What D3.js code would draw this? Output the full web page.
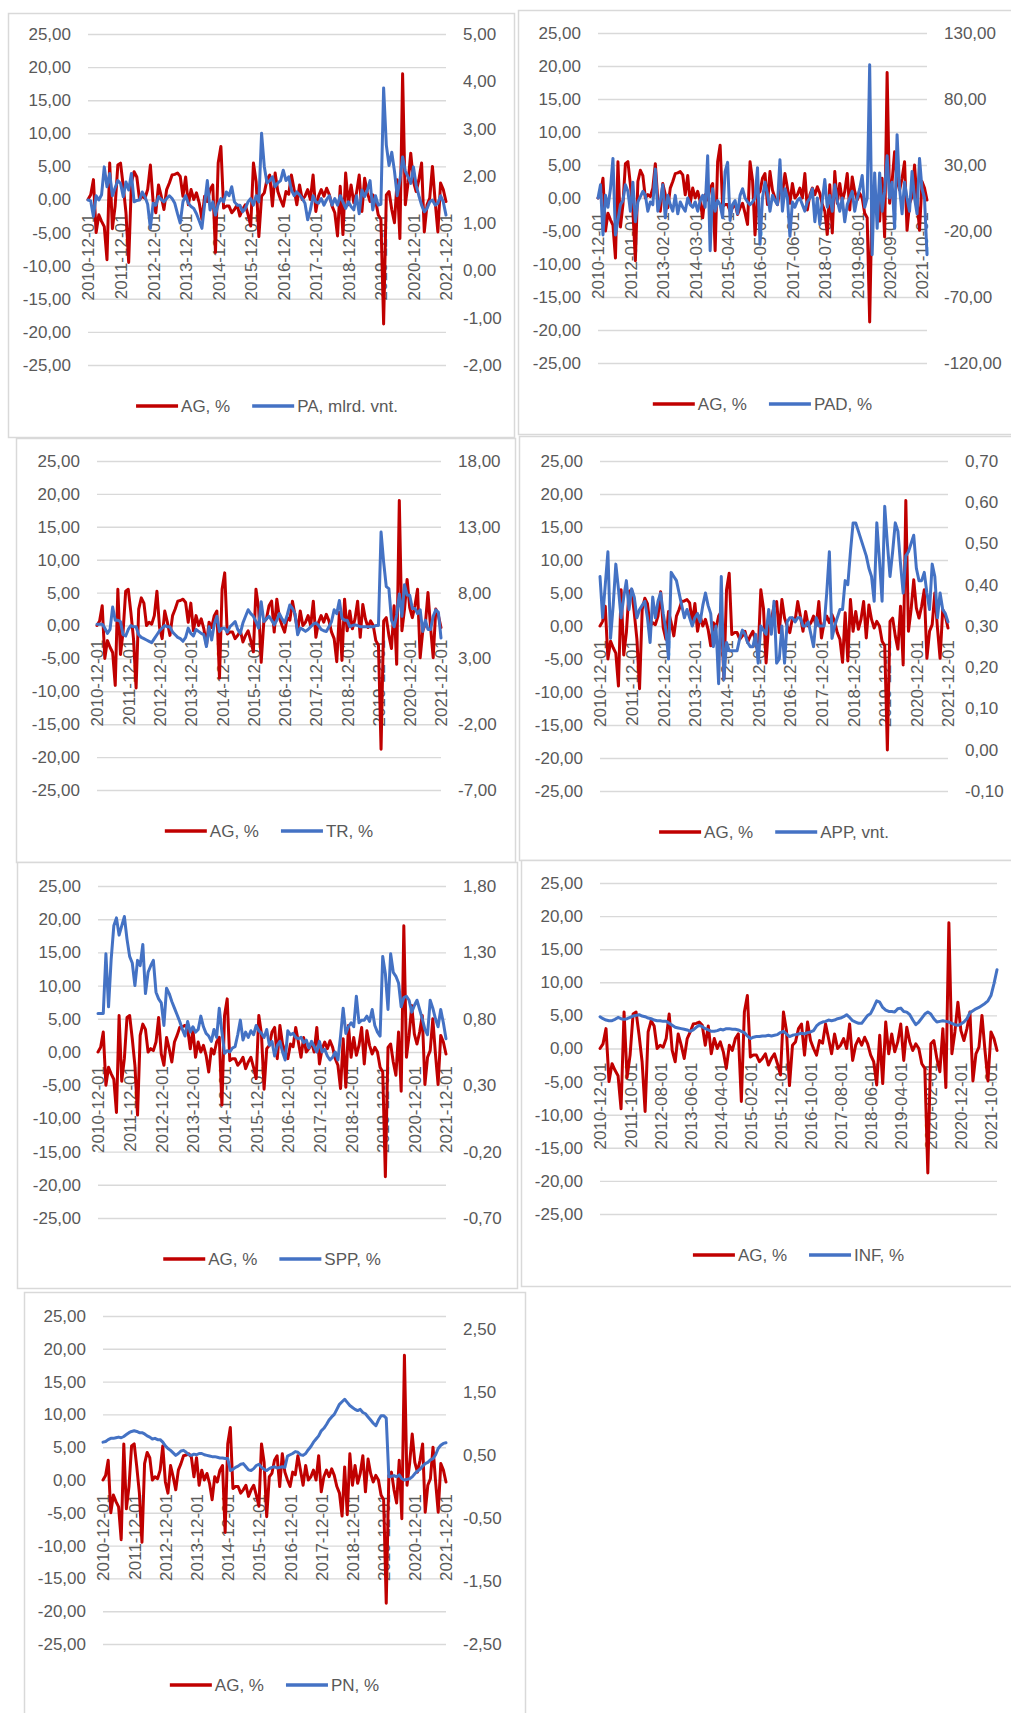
<!DOCTYPE html>
<html>
<head>
<meta charset="utf-8">
<script src="https://cdn.jsdelivr.net/npm/d3@7"></script>
<style>
  body { margin: 0; background: #fff; }
  svg text { font-family: "Liberation Sans", Arial, sans-serif; fill: #595959; }
</style>
</head>
<body>
<svg id="chart" width="1011" height="1713"></svg>
<script>
// Monthly observations, 2010-12 .. 2021-12 (133 months)
const firstMonth = new Date(2010, 11, 1);
const lastMonth = new Date(2021, 11, 1);

// AG, % (shared red series in every panel)
const agValues = [
  0, 0.7, 3, -5, -2.3, -3.3, -4.1, -9.1, 5.5, -4.4, -1, 5.2,
  5.5, 2, -2, -9.5, 2.5, 4.2, 3.4, 0, 0.5, 0.2, 1.5, 5.2,
  -0.3, -2, 2.2, 0.5, -1.5, 1.5, 2.5, 3.7, 3.8, 4, 3.5, 0.5,
  3.4, -0.8, 1.5, 0, 1, -0.5, -3, 0.5, -0.3, 1.5, 2.2, -8,
  5.5, 8, -1.3, -1, -1, -2, -1.5, -0.8, -2.5, -1.5, -0.8, -2.3,
  -4, 5.5, 2.7, -5.6, 0.5, 1, 3, 3.7, -1, 4, 1.2, 0,
  -1, 1.2, 0.8, 3.7, 1.5, -0.8, 2.2, 0, 0.5, 1.5, 0, 3.7,
  -1.8, 0.5, 1.5, 0.5, 1.7, 0.7, -1, -2, -5.5, 2, -5.3, 4,
  -0.8, 2.2, -0.5, 1, 3.7, -1.8, 3.2, 1, -0.3, 0.7, 0, -2.3,
  -3, -18.8, 0.7, 1.2, -1.5, -3.5, 3, -5.9, 19, -0.8, 2.5, 7,
  2.7, 1.2, 3, 5.5, -4.9, -0.8, 0.2, 5, -0.3, -4.9, 2.5, 1.5,
  -0.3
];

// PA, mlrd. vnt.
const paValues = [
  1.49, 1.47, 1.14, 1.58, 1.49, 1.60, 2.19, 1.77, 2.05, 1.58, 1.75, 1.90,
  1.84, 1.56, 1.87, 1.70, 2.05, 1.45, 1.48, 1.49, 1.66, 1.56, 1.40, 0.89,
  1.42, 1.38, 1.56, 1.50, 1.45, 1.52, 1.58, 1.52, 1.42, 1.20, 1.00, 1.45,
  1.58, 1.42, 1.35, 1.31, 1.20, 1.05, 0.89, 1.40, 1.90, 1.28, 1.45, 1.17,
  1.40, 1.52, 1.45, 1.66, 1.58, 1.77, 1.45, 1.38, 1.38, 1.24, 1.31, 1.45,
  1.52, 1.38, 1.58, 1.45, 2.90, 2.20, 1.85, 1.90, 1.98, 1.77, 1.85, 1.90,
  2.12, 1.90, 1.98, 1.70, 1.58, 1.66, 1.60, 1.52, 1.42, 1.07, 1.28, 1.58,
  1.45, 1.42, 1.52, 1.38, 1.50, 1.58, 1.38, 1.52, 1.38, 1.58, 1.45, 1.31,
  1.45, 1.35, 1.28, 1.58, 1.20, 1.70, 1.56, 1.70, 1.90, 1.28, 1.58, 1.38,
  1.40, 3.86, 2.65, 2.22, 2.50, 2.10, 1.58, 1.90, 2.40, 2.10, 1.98, 1.84,
  2.19, 1.80, 1.58, 1.38, 1.24, 1.31, 1.45, 1.49, 1.38, 1.42, 1.58, 1.45,
  1.17
];

// PAD, %
const padValues = [
  5, 15, -23, 7, -2, 12, 35, -23, -12, 0, 3, 15,
  10, -5, 17, -13, 2, 6, 10, 7, -5, 2, 0, 27,
  -5, 3, 15, -10, 7, 0, -5, 7, -7, 2, -2, -5,
  5, 0, -2, 2, -5, 3, 7, -2, 37, -35, 12, -5,
  3, 0, -10, 25, 32, -12, 0, 3, -7, 7, 12, 5,
  2, 0, 2, 5, 28, -30, 5, 17, 8, -5, 7, 3,
  0, 34, -5, 12, 5, -24, 2, -2, 3, 5, 0, -5,
  2, 5, 12, -13, 5, -15, 3, 19, -2, 7, -5, 15,
  3, -5, 5, -13, 0, 5, 10, -5, 5, 12, 22, -2,
  5, 106, -38, 24, -18, 24, -5, 10, 37, 5, 17, -18,
  53, 12, -7, 17, 5, -5, 25, 5, -7, 35, 12, 5,
  -38
];

// TR, %
const trValues = [
  5.6, 5.6, 5.6, 5.3, 4.9, 5.2, 6.9, 5.9, 5.9, 5.8, 4.8, 4.7,
  5.2, 5.5, 5.4, 5.4, 4.8, 4.6, 4.5, 4.4, 4.3, 4.2, 4.5, 4.8,
  5.1, 5.3, 5.5, 5.4, 5.4, 5.0, 4.8, 4.6, 4.5, 4.3, 4.6, 5.3,
  4.9, 4.7, 5.2, 5.05, 4.9, 4.8, 3.9, 5.4, 4.4, 5.6, 6.2, 5.05,
  5.3, 5.3, 5.0, 5.4, 5.6, 5.8, 5.2, 4.9, 5.7, 6.2, 6.7, 6.4,
  6.2, 5.8, 5.3, 7.3, 5.8, 6.0, 6.2, 5.9, 5.55, 5.9, 6.4, 6.0,
  5.7, 6.3, 7.06, 6.8, 6.4, 4.8, 5.3, 5.2, 5.05, 5.2, 5.4, 5.6,
  5.7, 5.5, 5.2, 5.1, 5.05, 5.4, 5.8, 6.7, 6.4, 7.4, 6.05, 5.9,
  5.9, 5.4, 5.5, 5.55, 5.5, 5.4, 5.4, 5.4, 5.4, 5.4, 5.4, 5.5,
  5.5, 12.6, 10.3, 8.45, 8.3, 5.9, 5.4, 6.3, 7.9, 6.2, 8.6, 7.8,
  7.8, 6.8, 6.8, 6.4, 6.7, 5.05, 5.9, 5.2, 5.2, 6.2, 6.7, 6.5,
  4.55
];

// APP, vnt.
const appValues = [
  0.42, 0.32, 0.40, 0.48, 0.27, 0.35, 0.45, 0.39, 0.32, 0.37, 0.41, 0.34,
  0.39, 0.37, 0.32, 0.34, 0.35, 0.36, 0.32, 0.26, 0.37, 0.32, 0.36, 0.38,
  0.33, 0.29, 0.22, 0.43, 0.42, 0.41, 0.38, 0.35, 0.32, 0.34, 0.32, 0.30,
  0.32, 0.33, 0.31, 0.35, 0.38, 0.35, 0.33, 0.25, 0.30, 0.16, 0.42, 0.17,
  0.26, 0.24, 0.24, 0.24, 0.24, 0.27, 0.29, 0.28, 0.26, 0.25, 0.25, 0.28,
  0.21, 0.30, 0.29, 0.28, 0.34, 0.28, 0.36, 0.21, 0.22, 0.30, 0.21, 0.31,
  0.32, 0.32, 0.31, 0.32, 0.32, 0.30, 0.30, 0.31, 0.28, 0.25, 0.32, 0.30,
  0.30, 0.30, 0.38, 0.48, 0.27, 0.30, 0.32, 0.34, 0.34, 0.41, 0.40, 0.48,
  0.55, 0.55, 0.53, 0.51, 0.49, 0.47, 0.44, 0.42, 0.36, 0.55, 0.46, 0.36,
  0.59, 0.50, 0.42, 0.48, 0.55, 0.53, 0.45, 0.38, 0.47, 0.48, 0.50, 0.52,
  0.44, 0.41, 0.41, 0.43, 0.38, 0.34, 0.45, 0.42, 0.32, 0.38, 0.34, 0.33,
  0.31
];

// SPP, %
const sppValues = [
  0.84, 0.84, 0.84, 1.29, 0.89, 1.25, 1.50, 1.56, 1.43, 1.50, 1.57, 1.40,
  1.27, 1.22, 1.05, 1.24, 1.20, 1.36, 0.99, 1.15, 1.20, 1.24, 1.00, 0.95,
  0.92, 0.75, 1.03, 0.99, 0.93, 0.88, 0.83, 0.78, 0.72, 0.67, 0.78, 0.70,
  0.74, 0.70, 0.72, 0.82, 0.74, 0.69, 0.67, 0.63, 0.72, 0.66, 0.88, 0.70,
  0.54, 0.56, 0.55, 0.58, 0.59, 0.68, 0.79, 0.64, 0.70, 0.66, 0.71, 0.68,
  0.75, 0.71, 0.69, 0.66, 0.72, 0.60, 0.63, 0.52, 0.60, 0.63, 0.55, 0.49,
  0.71, 0.68, 0.69, 0.66, 0.65, 0.66, 0.62, 0.64, 0.58, 0.63, 0.59, 0.55,
  0.63, 0.55, 0.57, 0.52, 0.49, 0.51, 0.55, 0.49, 0.67, 0.88, 0.69, 0.74,
  0.77, 0.74, 0.97, 0.77, 0.79, 0.79, 0.82, 0.78, 0.87, 0.75, 0.70, 0.67,
  1.27, 1.14, 0.87, 1.29, 1.15, 1.12, 1.07, 0.89, 0.96, 0.97, 0.94, 0.85,
  0.90, 0.94, 0.87, 0.80, 0.72, 0.68, 0.94, 0.88, 0.80, 0.74, 0.87, 0.77,
  0.65
];

// INF, %
const infValues = [
  4.8, 4.5, 4.3, 4.2, 4.2, 4.4, 4.7, 4.5, 4.4, 4.5, 4.7, 4.9,
  5.0, 5.1, 4.9, 4.8, 4.6, 4.5, 4.3, 4.2, 4.2, 4.1, 4.1, 3.8,
  3.5, 3.2, 3.1, 3.0, 2.9, 2.8, 2.6, 2.8, 3.2, 3.5, 3.3, 3.0,
  2.8, 2.6, 2.6, 2.7, 2.9, 2.8, 3.0, 3.0, 2.9, 2.9, 2.8, 2.6,
  2.4, 1.9, 1.5, 1.7, 1.8, 1.8, 1.9, 1.9, 2.0, 1.9, 2.0, 2.1,
  2.4, 2.6, 2.2, 1.8, 2.0, 2.1, 2.2, 2.3, 2.2, 2.4, 2.5, 2.7,
  3.4, 3.8, 4.0, 4.1, 4.3, 4.2, 4.3, 4.5, 4.6, 4.8, 5.1, 4.7,
  4.2, 4.0, 3.8, 3.8, 4.4, 5.0, 5.3, 6.2, 7.2, 7.0, 6.2, 5.8,
  5.6, 5.6, 5.5, 6.0, 6.1, 5.6, 5.5, 5.1, 4.3, 3.6, 4.0, 4.6,
  5.2, 5.5, 5.2, 4.5, 4.0, 4.1, 4.2, 4.1, 4.0, 3.8, 3.6, 3.5,
  3.7, 4.0, 4.5, 5.4, 5.7, 6.0, 6.2, 6.5, 6.8, 7.2, 8.0, 9.8,
  11.9
];

// PN, %
const pnValues = [
  0.70, 0.71, 0.74, 0.76, 0.76, 0.77, 0.78, 0.77, 0.79, 0.82, 0.85, 0.87,
  0.88, 0.87, 0.85, 0.85, 0.83, 0.80, 0.78, 0.75, 0.76, 0.74, 0.74, 0.70,
  0.64, 0.60, 0.57, 0.53, 0.49, 0.52, 0.56, 0.57, 0.54, 0.50, 0.49, 0.51,
  0.50, 0.52, 0.52, 0.50, 0.49, 0.48, 0.47, 0.47, 0.46, 0.45, 0.45, 0.44,
  0.44, 0.25, 0.27, 0.30, 0.32, 0.35, 0.36, 0.31, 0.26, 0.25, 0.28, 0.33,
  0.35, 0.30, 0.27, 0.25, 0.28, 0.30, 0.31, 0.29, 0.30, 0.31, 0.30, 0.48,
  0.50, 0.52, 0.55, 0.54, 0.50, 0.49, 0.52, 0.58, 0.63, 0.70, 0.75, 0.80,
  0.88, 0.92, 0.98, 1.05, 1.10, 1.14, 1.22, 1.30, 1.34, 1.38, 1.33, 1.28,
  1.25, 1.22, 1.20, 1.22, 1.17, 1.15, 1.10, 1.05, 1.00, 0.96, 1.05, 1.12,
  1.12, 1.08, 0.15, 0.16, 0.17, 0.15, 0.18, 0.12, 0.10, 0.11, 0.12, 0.15,
  0.20, 0.24, 0.27, 0.32, 0.36, 0.38, 0.42, 0.44, 0.50, 0.60, 0.65, 0.68,
  0.69
];

// Axis tick values
const leftTicks = [-25, -20, -15, -10, -5, 0, 5, 10, 15, 20, 25];
const paTicks = [-2, -1, 0, 1, 2, 3, 4, 5];
const padTicks = [-120, -70, -20, 30, 80, 130];
const trTicks = [-7, -2, 3, 8, 13, 18];
const appTicks = [-0.1, 0, 0.1, 0.2, 0.3, 0.4, 0.5, 0.6, 0.7];
const sppTicks = [-0.7, -0.2, 0.3, 0.8, 1.3, 1.8];
const pnTicks = [-2.5, -1.5, -0.5, 0.5, 1.5, 2.5];

// Panel layout: frame [x0, y0, x1, y1], plot [left, right, top, bottom]
const panels = [
  { frame: [8, 13, 514, 437],  plot: [88, 446, 34, 365],    series: paValues,  name: "PA, mlrd. vnt.", right: { domain: [-2, 5], ticks: paTicks },        labelEvery: 12 },
  { frame: [518, 10, 1016, 434], plot: [598, 927, 33, 363],  series: padValues, name: "PAD, %",         right: { domain: [-120, 130], ticks: padTicks },   labelEvery: 13 },
  { frame: [16, 438, 515, 862], plot: [97, 441, 461, 790],   series: trValues,  name: "TR, %",          right: { domain: [-7, 18], ticks: trTicks },       labelEvery: 12 },
  { frame: [519, 436, 1016, 860], plot: [600, 948, 461, 791], series: appValues, name: "APP, vnt.",      right: { domain: [-0.1, 0.7], ticks: appTicks },   labelEvery: 12 },
  { frame: [17, 862, 517, 1288], plot: [98, 446, 886, 1218], series: sppValues, name: "SPP, %",         right: { domain: [-0.7, 1.8], ticks: sppTicks },   labelEvery: 12 },
  { frame: [521, 860, 1016, 1286], plot: [600, 997, 883, 1214], series: infValues, name: "INF, %",       right: null,                                         labelEvery: 10 },
  { frame: [24, 1292, 525, 1720], plot: [103, 446, 1316, 1644], series: pnValues, name: "PN, %",        right: { domain: [-2.5, 2.7], ticks: pnTicks },    labelEvery: 12 }
];

const RED = "#C00000", BLUE = "#4472C4", GRID = "#D9D9D9", TEXT = "#595959";
const FONT = 17;
const FAMILY = '"Liberation Sans", Arial, sans-serif';

const months = d3.timeMonth.range(firstMonth, d3.timeMonth.offset(lastMonth, 1));
const monthLabel = d3.timeFormat("%Y-%m-%d");
const fmt = d3.formatLocale({ decimal: ",", thousands: " ", grouping: [3], currency: ["", ""], minus: "-" }).format(".2f");

const svg = d3.select("#chart");

panels.forEach(p => {
  const g = svg.append("g");
  const [fx0, fy0, fx1, fy1] = p.frame;
  const [L, R, T, B] = p.plot;

  // chart frame
  g.append("rect")
    .attr("x", fx0 + 0.5).attr("y", fy0 + 0.5)
    .attr("width", fx1 - fx0).attr("height", fy1 - fy0)
    .attr("fill", "#fff").attr("stroke", GRID).attr("stroke-width", 1.5);

  const x = d3.scaleLinear().domain([0, months.length - 1]).range([L, R]);
  const yL = d3.scaleLinear().domain([-25, 25]).range([B, T]);
  const yR = p.right ? d3.scaleLinear().domain(p.right.domain).range([B, T]) : yL;

  // horizontal gridlines
  g.append("g")
    .attr("transform", `translate(${L},0)`)
    .call(d3.axisRight(yL).tickValues(leftTicks).tickSize(R - L).tickFormat(""))
    .call(a => a.select(".domain").remove())
    .call(a => a.selectAll("line").attr("stroke", GRID).attr("stroke-width", 1.4));

  // left value axis
  g.append("g")
    .attr("transform", `translate(${L},0)`)
    .call(d3.axisLeft(yL).tickValues(leftTicks).tickFormat(fmt).tickSize(0).tickPadding(17))
    .call(a => a.select(".domain").remove())
    .call(a => a.selectAll("text").attr("font-size", FONT).attr("fill", TEXT).attr("font-family", FAMILY));

  // right value axis
  if (p.right) {
    g.append("g")
      .attr("transform", `translate(${R},0)`)
      .call(d3.axisRight(yR).tickValues(p.right.ticks).tickFormat(fmt).tickSize(0).tickPadding(17))
      .call(a => a.select(".domain").remove())
      .call(a => a.selectAll("text").attr("font-size", FONT).attr("fill", TEXT).attr("font-family", FAMILY));
  }

  // category axis at zero, rotated labels
  const labelIdx = d3.range(months.length).filter(i => i % p.labelEvery === 0);
  g.append("g")
    .attr("transform", `translate(0,${yL(0)})`)
    .call(d3.axisBottom(x).tickValues(labelIdx).tickFormat(i => monthLabel(months[i])).tickSize(0))
    .call(a => a.select(".domain").remove())
    .call(a => a.selectAll("text")
      .attr("font-size", FONT).attr("fill", TEXT).attr("font-family", FAMILY)
      .attr("transform", "rotate(-90)")
      .attr("text-anchor", "end")
      .attr("x", -14).attr("y", 0).attr("dy", "0.35em"));

  // series lines
  const lineL = d3.line().x((d, i) => x(i)).y(d => yL(d));
  const lineR = d3.line().x((d, i) => x(i)).y(d => yR(d));
  g.append("path").datum(agValues).attr("d", lineL)
    .attr("fill", "none").attr("stroke", RED).attr("stroke-width", 3)
    .attr("stroke-linejoin", "round").attr("stroke-linecap", "round");
  g.append("path").datum(p.series).attr("d", lineR)
    .attr("fill", "none").attr("stroke", BLUE).attr("stroke-width", 3)
    .attr("stroke-linejoin", "round").attr("stroke-linecap", "round");

  // legend, centred under the plot area
  const legY = B + 41;
  const items = [{ name: "AG, %", color: RED }, { name: p.name, color: BLUE }];
  const leg = g.append("g");
  let cx = 0;
  items.forEach(it => {
    const ig = leg.append("g").attr("transform", `translate(${cx},0)`);
    ig.append("line").attr("x1", 0).attr("x2", 42).attr("y1", 0).attr("y2", 0)
      .attr("stroke", it.color).attr("stroke-width", 3.5);
    const t = ig.append("text").attr("x", 45).attr("y", 0).attr("dy", "0.35em")
      .attr("font-size", FONT).attr("fill", TEXT).attr("font-family", FAMILY).text(it.name);
    cx += 45 + t.node().getComputedTextLength() + 22;
  });
  const legW = cx - 22;
  leg.attr("transform", `translate(${(L + R) / 2 - legW / 2},${legY})`);
});
</script>
</body>
</html>
